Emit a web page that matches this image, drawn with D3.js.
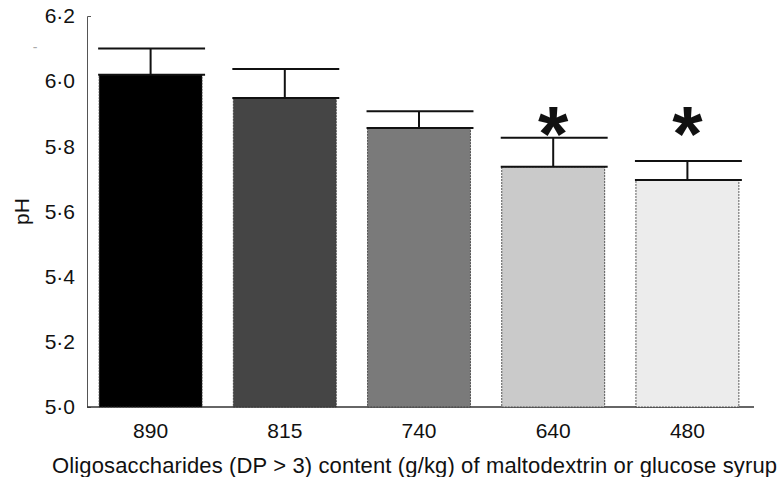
<!DOCTYPE html>
<html>
<head>
<meta charset="utf-8">
<script src="https://cdn.jsdelivr.net/npm/d3@7"></script>
<style>
  body { margin: 0; background: #fff; }
  text { font-family: "Liberation Sans", Arial, Helvetica, sans-serif; fill: #111; }
</style>
</head>
<body>
<div id="container"></div>
<script>
const w = 781
const h = 477

// data
const categories = ['890', '815', '740', '640', '480']
const phMeans = [6.02, 5.948, 5.856, 5.737, 5.697]
const phErrors = [0.08, 0.089, 0.052, 0.089, 0.058]
const significant = [false, false, false, true, true]
const sigLevel = 5.826
const yTicks = [5.0, 5.2, 5.4, 5.6, 5.8, 6.0, 6.2]
const barColors = ['#000000', '#454545', '#7a7a7a', '#cacaca', '#ececec']

const svg = d3.select('#container')
              .append('svg')
              .attr('width', w)
              .attr('height', h)

const axisX = 87
const xScale = d3.scaleBand()
                 .domain(categories)
                 .range([83.5, 754.5])
                 .paddingInner(0.233)
                 .paddingOuter(0.1165)
const yScale = d3.scaleLinear()
                 .domain([5.0, 6.2])
                 .range([407, 16])

const fmt = d => d3.format('.1f')(d).replace('.', '·')

// y axis
const yAxis = d3.axisLeft(yScale)
                .tickValues(yTicks)
                .tickFormat(fmt)
                .tickSizeInner(0)
                .tickSizeOuter(-4)
                .tickPadding(12)
const gy = svg.append('g')
   .attr('transform', 'translate(' + axisX + ', 0)')
   .call(yAxis)
   .attr('font-size', 21)
   .attr('font-family', 'Liberation Sans, Arial, sans-serif')
gy.select('.domain').attr('stroke', '#555').attr('stroke-width', 1)
gy.selectAll('text').attr('fill', '#111')

// x axis
const xAxis = d3.axisBottom(xScale).tickSize(0).tickPadding(16)
const gx = svg.append('g')
   .attr('transform', 'translate(0, ' + yScale(5.0) + ')')
   .call(xAxis)
   .attr('font-size', 21)
   .attr('font-family', 'Liberation Sans, Arial, sans-serif')
gx.select('.domain').remove()
gx.selectAll('text').attr('fill', '#111')
svg.append('line')
   .attr('x1', axisX).attr('x2', 754)
   .attr('y1', yScale(5.0)).attr('y2', yScale(5.0))
   .attr('stroke', '#333').attr('stroke-width', 1.5)

// bars
const bw = xScale.bandwidth()
svg.selectAll('rect.bar')
   .data(phMeans)
   .enter()
   .append('rect')
   .attr('class', 'bar')
   .attr('x', (d, i) => xScale(categories[i]))
   .attr('y', d => yScale(d))
   .attr('width', bw)
   .attr('height', d => yScale(5.0) - yScale(d))
   .attr('fill', (d, i) => barColors[i])
   .attr('stroke', '#333')
   .attr('stroke-width', 0.8)
   .attr('stroke-dasharray', '2,1')

// top edge of each bar
svg.selectAll('line.top')
   .data(phMeans)
   .enter()
   .append('line')
   .attr('x1', (d, i) => xScale(categories[i]) - 1)
   .attr('x2', (d, i) => xScale(categories[i]) + bw + 3)
   .attr('y1', d => yScale(d))
   .attr('y2', d => yScale(d))
   .attr('stroke', '#111')
   .attr('stroke-width', 2)

// error bars
svg.selectAll('line.stem')
   .data(phMeans)
   .enter()
   .append('line')
   .attr('x1', (d, i) => xScale(categories[i]) + bw / 2)
   .attr('x2', (d, i) => xScale(categories[i]) + bw / 2)
   .attr('y1', d => yScale(d))
   .attr('y2', (d, i) => yScale(d + phErrors[i]))
   .attr('stroke', '#111')
   .attr('stroke-width', 2)
svg.selectAll('line.cap')
   .data(phMeans)
   .enter()
   .append('line')
   .attr('x1', (d, i) => xScale(categories[i]) - 1)
   .attr('x2', (d, i) => xScale(categories[i]) + bw + 3)
   .attr('y1', (d, i) => yScale(d + phErrors[i]))
   .attr('y2', (d, i) => yScale(d + phErrors[i]))
   .attr('stroke', '#111')
   .attr('stroke-width', 2)

// significance marks
svg.selectAll('text.sig')
   .data(categories.filter((c, i) => significant[i]))
   .enter()
   .append('text')
   .attr('class', 'sig')
   .attr('x', d => xScale(d) + bw / 2)
   .attr('y', yScale(sigLevel) + 23)
   .attr('text-anchor', 'middle')
   .attr('font-size', 78)
   .attr('font-weight', 'bold')
   .text('*')

// axis titles
svg.append('text')
   .attr('transform', 'translate(29, ' + yScale(5.6) + ') rotate(-90)')
   .attr('text-anchor', 'middle')
   .attr('font-size', 21)
   .text('pH')

svg.append('text')
   .attr('x', 414.5)
   .attr('y', 473)
   .attr('text-anchor', 'middle')
   .attr('textLength', 725)
   .attr('lengthAdjust', 'spacing')
   .attr('font-size', 22)
   .text('Oligosaccharides (DP > 3) content (g/kg) of maltodextrin or glucose syrup')

// faint stray mark near the top of the axis
svg.append('text')
   .attr('x', 35)
   .attr('y', 52)
   .attr('text-anchor', 'middle')
   .attr('font-size', 14)
   .style('fill', '#aaa')
   .text('-')
</script>
</body>
</html>
